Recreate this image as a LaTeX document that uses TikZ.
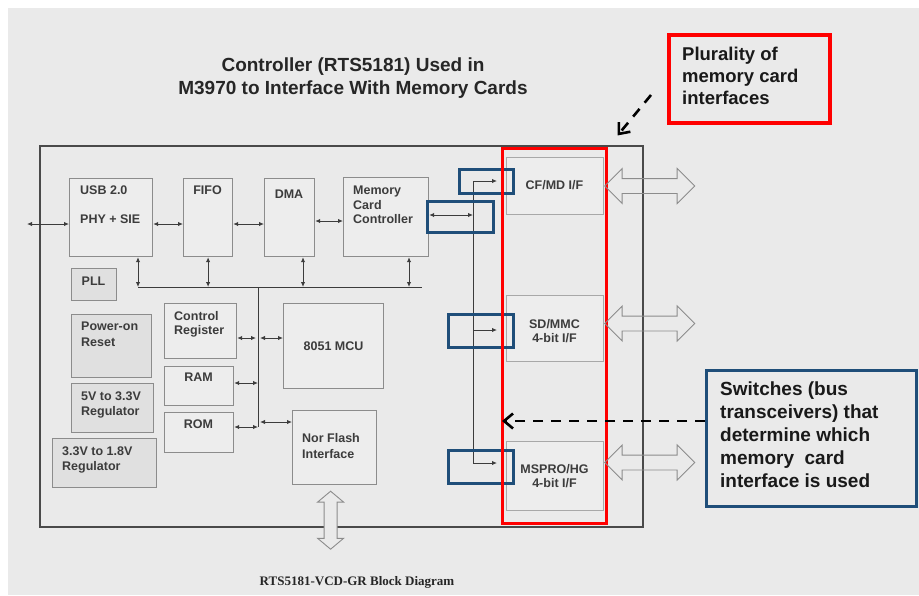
\documentclass[tikz,border=0pt]{standalone}
\usepackage{fontspec}
\setmainfont{Liberation Sans}
\newfontfamily\capfont{Liberation Serif}
\usetikzlibrary{arrows.meta,shapes.arrows}
\definecolor{bggray}{HTML}{EAEAEA}
\definecolor{blkfill}{HTML}{EDEDED}
\definecolor{pwrfill}{HTML}{E0E0E0}
\definecolor{blkline}{HTML}{8C8C8C}
\definecolor{ifline}{HTML}{A8A8A8}
\definecolor{chipline}{HTML}{4A4A4A}
\definecolor{txtgray}{HTML}{3C3C3C}
\definecolor{swblue}{HTML}{1F4E79}
\tikzset{
    blk/.style={draw=blkline,line width=1.2pt,fill=blkfill,anchor=north west,inner sep=0pt},
    pwr/.style={blk,fill=pwrfill},
    cardif/.style={blk,draw=ifline,line width=1pt},
    tag/.style={font=\fontsize{12.5}{14.5}\selectfont\bfseries,text=txtgray,inner sep=0pt,anchor=north west,align=left},
    ctag/.style={tag,anchor=north,align=center},
    bus/.style={draw=txtgray,line width=1pt},
    lnk/.style={bus,{Latex[length=5pt,width=4.5pt]}-{Latex[length=5pt,width=4.5pt]}},
    feed/.style={bus,-{Latex[length=5pt,width=4.5pt]}},
    switch/.style={draw=swblue,line width=3pt,anchor=north west,inner sep=0pt},
    port/.style={double arrow,draw=blkline,line width=0.9pt,double arrow head extend=10pt,
        inner xsep=0pt,inner ysep=7pt,minimum height=90pt,anchor=west},
    callout/.style={font=\fontsize{19}{23}\selectfont\bfseries,text=black!90,align=left,anchor=north west,inner sep=0pt},
    hint/.style={draw=black,line width=2.6pt,dash pattern=on 10pt off 8pt,-{Straight Barb[length=9pt,width=15pt]}},
}
\begin{document}
\begin{tikzpicture}[x=1pt,y=-1pt]
    \useasboundingbox (0,0) rectangle (919,595);
    \fill[bggray] (8,8) rectangle (919,595);

    % chip outline
    \node[draw=chipline,line width=1.5pt,anchor=north west,inner sep=0pt,minimum width=603pt,minimum height=381pt] (chip) at (39,145) {};

    \node[font=\fontsize{19}{23}\selectfont\bfseries,text=black!85,align=center,anchor=north] (title) at (353,54)
        {Controller (RTS5181) Used in\\M3970 to Interface With Memory Cards};

    % blocks
    \node[blk,minimum width=83pt,minimum height=78pt] (usb) at (69,178) {};
    \node[blk,minimum width=49pt,minimum height=78pt] (fifo) at (183,178) {};
    \node[blk,minimum width=50pt,minimum height=78pt] (dma) at (264,178) {};
    \node[blk,minimum width=85pt,minimum height=79pt] (mcc) at (343,177) {};
    \node[pwr,minimum width=45pt,minimum height=32pt] (pll) at (71,268) {};
    \node[pwr,minimum width=80pt,minimum height=63pt] (por) at (71,314) {};
    \node[pwr,minimum width=82pt,minimum height=49pt] (reg5) at (71,383) {};
    \node[pwr,minimum width=104pt,minimum height=49pt] (reg33) at (52,438) {};
    \node[blk,minimum width=72pt,minimum height=55pt] (ctrl) at (164,303) {};
    \node[blk,minimum width=69pt,minimum height=39pt] (ram) at (164,366) {};
    \node[blk,minimum width=69pt,minimum height=40pt] (rom) at (164,412) {};
    \node[blk,minimum width=100pt,minimum height=85pt] (mcu) at (283,303) {};
    \node[blk,minimum width=84pt,minimum height=74pt] (nor) at (292,410) {};
    \node[cardif,minimum width=97pt,minimum height=57pt] (cf) at (506,157) {};
    \node[cardif,minimum width=97pt,minimum height=66pt] (sd) at (506,295) {};
    \node[cardif,minimum width=97pt,minimum height=69pt] (ms) at (506,441) {};

    \node[tag] (usbT) at (80,186) {USB 2.0\\[14.5pt]PHY + SIE};
    \node[ctag] (fifoT) at (207.5,186) {FIFO};
    \node[ctag] (dmaT) at (289,190) {DMA};
    \node[tag] (mccT) at (353,186) {Memory\\Card\\Controller};
    \node[ctag] (pllT) at (93.5,277) {PLL};
    \node[tag] (porT) at (81,322) {Power-on\\[1.5pt]Reset};
    \node[tag] (reg5T) at (81,392) {5V to 3.3V\\Regulator};
    \node[tag] (reg33T) at (62,447) {3.3V to 1.8V\\Regulator};
    \node[tag] (ctrlT) at (174,311) {Control\\Register};
    \node[ctag] (ramT) at (198.5,373) {RAM};
    \node[ctag] (romT) at (198.5,420) {ROM};
    \node[tag,anchor=center] (mcuT) at (mcu) {8051 MCU};
    \node[tag] (norT) at (302,433) {Nor Flash\\[1.5pt]Interface};
    \node[ctag] (cfT) at (554.5,180) {CF/MD I/F};
    \node[ctag] (sdT) at (554.5,319) {SD/MMC\\4-bit I/F};
    \node[ctag] (msT) at (554.5,464) {MSPRO/HG\\4-bit I/F};

    % data path
    \coordinate (host) at (27,224);
    \coordinate (rowB) at (0,221);
    \draw[lnk] (host) -- (usb.west |- host);
    \draw[lnk] (usb.east |- host) -- (fifo.west |- host);
    \draw[lnk] (fifo.east |- host) -- (dma.west |- host);
    \draw[lnk] (dma.east |- rowB) -- (mcc.west |- rowB);

    % internal bus
    \coordinate (busW) at (138,287);
    \coordinate (busE) at (422,287);
    \coordinate (dmaTap) at (303,287);
    \coordinate (mccTap) at (409,287);
    \coordinate (busTop) at (258,287);
    \coordinate (busBot) at (258,427);
    \draw[bus] (busW) -- (busE);
    \draw[bus] (busTop) -- (busBot);
    \draw[lnk] (busW |- usb.south) -- (busW);
    \draw[lnk] (fifo.south) -- (fifo.south |- busW);
    \draw[lnk] (dmaTap |- dma.south) -- (dmaTap);
    \draw[lnk] (mccTap |- mcc.south) -- (mccTap);

    \coordinate (tapCR) at (258,338);
    \coordinate (tapRAM) at (258,383);
    \coordinate (tapROM) at (258,427);
    \coordinate (tapNOR) at (258,422);
    \draw[lnk,shorten >=2pt] (ctrl.east |- tapCR) -- (tapCR);
    \draw[lnk,shorten <=2pt] (tapCR) -- (mcu.west |- tapCR);
    \draw[lnk] (ram.east |- tapRAM) -- (tapRAM);
    \draw[lnk] (rom.east |- tapROM) -- (tapROM);
    \draw[lnk,shorten <=2pt] (tapNOR) -- (nor.west |- tapNOR);

    % card switches
    \coordinate (swTop) at (473,181);
    \coordinate (swBot) at (473,463);
    \coordinate (swMid) at (473,215);
    \coordinate (sdTap) at (473,330);
    \draw[lnk] (mcc.east |- swMid) -- (swMid);
    \draw[feed,shorten >=9pt] (swBot) -- (swTop) -- (cf.west |- swTop);
    \draw[feed,shorten >=9pt] (sdTap) -- (sd.west |- sdTap);
    \draw[feed,shorten >=9pt] (swBot) -- (ms.west |- swBot);

    \node[switch,minimum width=54pt,minimum height=24pt] (sw1) at (458,168) {};
    \node[switch,minimum width=66pt,minimum height=31pt] (swm) at (426,200) {};
    \node[switch,minimum width=65pt,minimum height=33pt] (sw2) at (447,313) {};
    \node[switch,minimum width=65pt,minimum height=33pt] (sw3) at (447,449) {};

    \node[draw=red,line width=3pt,anchor=north west,inner sep=0pt,minimum width=104pt,minimum height=375pt] (cards) at (501,147) {};

    % card ports
    \node[port] (cfPort) at (cf.east) {};
    \node[port] (sdPort) at ([yshift=5pt]sd.east) {};
    \node[port] (msPort) at ([yshift=13.5pt]ms.east) {};
    \node[port,rotate=90,minimum height=58pt,inner ysep=6pt,double arrow head extend=6.5pt,
        double arrow tip angle=100,anchor=center,fill=bggray] (norPort) at ([xshift=-4pt,yshift=-35pt]nor.south) {};

    \node[font=\capfont\bfseries\fontsize{13}{15}\selectfont,text=black!85,anchor=base] (caption) at (357,585)
        {RTS5181-VCD-GR Block Diagram};

    % notes
    \node[draw=red,line width=4pt,fill=bggray,anchor=north west,inner sep=0pt,minimum width=161pt,minimum height=88pt] (plural) at (667,33) {};
    \node[callout,font=\fontsize{18.5}{22}\selectfont\bfseries] (pluralT) at (682,47) {Plurality of\\memory card\\interfaces};
    \node[draw=swblue,line width=3pt,fill=bggray,anchor=north west,inner sep=0pt,minimum width=210pt,minimum height=136pt] (swNote) at (705,369) {};
    \node[callout] (swNoteT) at (720,382) {Switches (bus\\transceivers) that\\determine which\\memory\ \ card\\interface is used};

    \coordinate (pluralTail) at (651,95);
    \coordinate (swTail) at (705,421);
    \draw[hint,shorten >=15pt] (pluralTail) -- (cards.north east);
    \draw[hint,shorten >=1pt] (swTail) -- (cards.west |- swTail);
\end{tikzpicture}
\end{document}
